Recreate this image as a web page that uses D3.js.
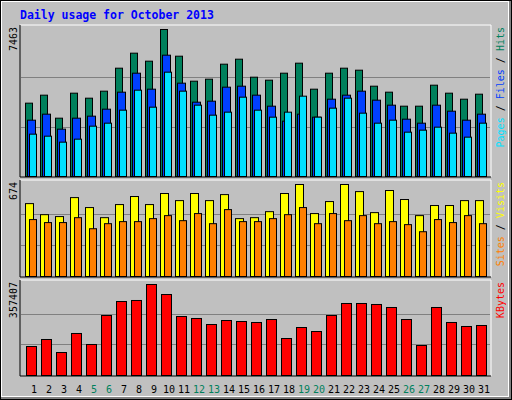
<!DOCTYPE html>
<html><head><meta charset="utf-8">
<script src="https://cdn.jsdelivr.net/npm/d3@7"></script>
<style>body{margin:0;background:#fff}svg{display:block}</style>
</head><body>
<script>
const days = d3.range(1, 32);
const weekends = [5, 6, 12, 13, 19, 20, 26, 27];
const hits = [3723,4129,2961,4230,3976,4332,5499,6261,5855,7463,6108,4839,4941,5702,5956,5042,4890,5245,5753,4433,5245,5499,5397,4585,4281,3570,3570,4636,4230,3925,4179];
const files = [2859,3164,2403,2961,3063,3418,4281,5245,4433,6159,4738,3773,3824,4535,4585,4129,3570,2809,3164,3012,3925,4129,4332,3875,3621,2910,2707,3621,3316,2859,3164];
const pages = [2149,2047,1743,1895,2555,2707,3367,4382,3519,5296,4332,3621,3113,3266,4027,3367,3012,3266,4078,3012,3469,3976,3215,2707,2859,2250,2352,2504,2200,1997,2707];
const visits = [534,453,439,578,505,431,527,586,527,608,556,608,556,600,424,431,475,608,674,461,549,674,622,468,630,564,446,520,520,556,556];
const sites = [417,395,395,431,350,387,402,402,424,446,409,461,387,490,402,402,424,453,505,387,461,409,446,387,402,380,328,417,395,446,387];
const kbytes = [113900,141400,90300,165000,121800,235700,290600,294600,357407,318100,231700,223900,200300,216000,212100,208200,219900,145300,188500,172800,235700,282800,282800,278900,267100,219900,117800,267100,208200,192500,196400];
const maxHits = 7463, maxVisits = 674, maxKB = 357407;

const W = 512, H = 400;
const svg = d3.select("body").append("svg").attr("width", W).attr("height", H);
svg.append("rect").attr("width", W).attr("height", H).attr("fill", "#000");
svg.append("rect").attr("x",1).attr("y",1).attr("width", W-2).attr("height", H-2).attr("fill", "#808080");
svg.append("rect").attr("x",1).attr("y",1).attr("width", W-4).attr("height", H-4).attr("fill", "#fff");
svg.append("rect").attr("x",2).attr("y",2).attr("width", W-6).attr("height", H-6).attr("fill", "#C0C0C0");

const font = "'DejaVu Sans Mono', monospace";
svg.append("text").attr("x", 20).attr("y", 19).attr("fill", "#0000FF")
  .attr("font-family", font).attr("font-weight", "bold").attr("font-size", 11.5)
  .text("Daily usage for October 2013");

const x = d3.scaleBand().domain(days).range([25, 490]).padding(0);
const L = 20, R = 491;

function panel(top, bottom, maxTop) {
  svg.append("rect").attr("x", L).attr("y", top).attr("width", R-L).attr("height", bottom-top)
    .attr("fill", "#C0C0C0");
  svg.append("line").attr("x1", L).attr("x2", R).attr("y1", top).attr("y2", top).attr("stroke", "#fff");
  svg.append("line").attr("x1", R).attr("x2", R).attr("y1", top).attr("y2", bottom).attr("stroke", "#fff");
  svg.append("line").attr("x1", L).attr("x2", L).attr("y1", top).attr("y2", bottom).attr("stroke", "#000");
  svg.append("line").attr("x1", L).attr("x2", R).attr("y1", bottom).attr("y2", bottom).attr("stroke", "#000");
  const h = bottom - maxTop;
  [1/3, 2/3].forEach(f => svg.append("line").attr("x1", L+1).attr("x2", R-1)
    .attr("y1", Math.round(bottom - h*f - 1)+0.5).attr("y2", Math.round(bottom - h*f - 1)+0.5)
    .attr("stroke", "#808080"));
}

function bars(vals, y, off, w, color) {
  svg.append("g").selectAll("rect").data(vals).enter().append("rect")
    .attr("x", (d, i) => x(days[i]) + off + 0.5)
    .attr("y", d => y(d) + 0.5)
    .attr("width", w).attr("height", d => y(0) - y(d))
    .attr("fill", color).attr("stroke", "#000").attr("stroke-width", 1);
}

// top panel
panel(25, 177, 29);
const y1 = d3.scaleLinear().domain([0, maxHits]).range([176, 29]);
bars(hits, y1, 0, 7, "#00805C");
bars(files, y1, 2, 8, "#0040FF");
bars(pages, y1, 4, 7, "#00E0FF");

// middle
panel(180, 277, 184);
const y2 = d3.scaleLinear().domain([0, maxVisits]).range([276, 184]);
bars(visits, y2, 0, 8, "#FFFF00");
bars(sites, y2, 4, 7, "#FF8000");

// bottom
panel(280, 376, 284);
const y3 = d3.scaleLinear().domain([0, maxKB]).range([375, 284]);
bars(kbytes, y3, 1, 10, "#FF0000");

// x labels
svg.append("g").selectAll("text").data(days).enter().append("text")
  .attr("x", d => x(d) + 9).attr("y", 393).attr("text-anchor", "middle")
  .attr("font-family", font).attr("font-size", 10)
  .attr("fill", d => weekends.includes(d) ? "#00805C" : "#000").text(d => d);

// left max labels
function vlabel(xp, yp, parts, anchor) {
  const t = svg.append("text").attr("transform", `translate(${xp},${yp}) rotate(-90)`)
    .attr("text-anchor", anchor).attr("font-family", font).attr("font-size", 10);
  parts.forEach(p => t.append("tspan").attr("fill", p[1]).text(p[0]));
}
vlabel(17, 27, [["7463", "#000"]], "end");
vlabel(17, 182, [["674", "#000"]], "end");
vlabel(17, 282, [["357407", "#000"]], "end");

vlabel(504, 27, [["Pages", "#00E0FF"], [" / ", "#000"], ["Files", "#0040FF"], [" / ", "#000"], ["Hits", "#00805C"]], "end");
vlabel(504, 182, [["Sites", "#FF8000"], [" / ", "#000"], ["Visits", "#FFFF00"]], "end");
vlabel(504, 282, [["KBytes", "#FF0000"]], "end");
</script>
</body></html>
